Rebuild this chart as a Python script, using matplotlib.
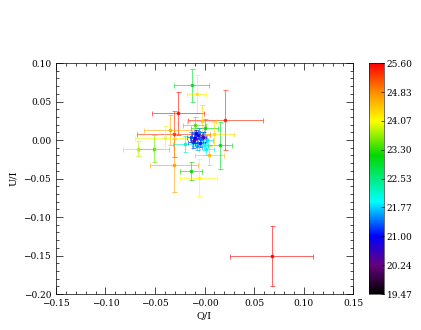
import numpy as np
import matplotlib
matplotlib.use('Agg')
import matplotlib.pyplot as plt
from matplotlib.colors import LinearSegmentedColormap, Normalize
from matplotlib.ticker import MultipleLocator

plt.rcParams['font.family'] = 'DejaVu Serif'

# Q/I, U/I, errors, magnitude (colour)
q = [-0.013, -0.008, -0.027, 0.021, -0.031, -0.035, -0.067, -0.051, -0.031, -0.014,
     -0.006, 0.005, 0.016, 0.000, -0.010, 0.002, -0.020, -0.040, 0.010, -0.003,
     -0.010, -0.007, -0.012, -0.005, -0.009, -0.004, -0.014, -0.008, -0.002, -0.011,
     -0.006, 0.003, -0.001, 0.068]
u = [0.071, 0.060, 0.035, 0.026, 0.008, 0.013, -0.011, -0.011, -0.033, -0.040,
     -0.049, -0.020, -0.007, 0.015, 0.020, -0.011, -0.005, 0.003, 0.008, 0.025,
     0.002, 0.006, -0.003, -0.004, 0.009, 0.001, 0.004, -0.008, 0.004, 0.000,
     0.011, 0.000, -0.007, -0.151]
qerr = [0.018, 0.010, 0.026, 0.038, 0.037, 0.026, 0.015, 0.015, 0.024, 0.011,
        0.019, 0.015, 0.012, 0.014, 0.012, 0.008, 0.012, 0.030, 0.020, 0.015,
        0.005, 0.004, 0.005, 0.005, 0.004, 0.006, 0.004, 0.005, 0.004, 0.003,
        0.005, 0.006, 0.005, 0.042]
uerr = [0.021, 0.025, 0.028, 0.039, 0.030, 0.020, 0.010, 0.018, 0.034, 0.012,
        0.024, 0.012, 0.031, 0.012, 0.010, 0.008, 0.010, 0.015, 0.015, 0.020,
        0.006, 0.005, 0.007, 0.005, 0.004, 0.005, 0.006, 0.005, 0.006, 0.004,
        0.004, 0.007, 0.006, 0.039]
mag = [22.9, 24.2, 25.5, 25.4, 25.3, 24.6, 23.8, 23.5, 24.7, 23.2,
       24.1, 24.5, 23.0, 23.1, 23.4, 21.9, 22.2, 24.0, 24.3, 24.4,
       21.0, 20.8, 21.2, 21.1, 20.9, 21.4, 21.3, 21.6, 20.6, 20.4,
       21.5, 21.8, 22.0, 25.6]

cb_ticks = [19.47, 20.24, 21.00, 21.77, 22.53, 23.30, 24.07, 24.83, 25.60]

cmap = LinearSegmentedColormap.from_list('idl_rainbow', [
    (0.0, (0, 0, 0)),
    (0.125, (0.40, 0.0, 0.50)),
    (0.25, (0.0, 0.0, 1.0)),
    (0.40, (0.0, 1.0, 1.0)),
    (0.60, (0.0, 0.85, 0.0)),
    (0.75, (1.0, 1.0, 0.0)),
    (0.875, (1.0, 0.55, 0.0)),
    (1.0, (1.0, 0.0, 0.0))])
norm = Normalize(vmin=19.47, vmax=25.60)


def fmt_x(v, p):
    s = '%.2f' % v
    if abs(v) < 1e-9:
        s = '-0.00'
    return s.replace('-', '\u2212')


def fmt_y(v, p):
    s = '%.2f' % (0.0 if abs(v) < 1e-9 else v)
    return s.replace('-', '\u2212')


fig = plt.figure(figsize=(4.21, 3.30), dpi=100)
ax = fig.add_axes([0.133, 0.109, 0.7055, 0.700])

for i in range(len(q)):
    c = cmap(norm(mag[i]))
    ax.errorbar(q[i], u[i], xerr=qerr[i], yerr=uerr[i], fmt='s', color=c,
                ms=1.8, elinewidth=0.5, capsize=1.8, capthick=0.5, alpha=0.85)

ax.set_xlim(-0.15, 0.15)
ax.set_ylim(-0.20, 0.10)
ax.xaxis.set_major_locator(MultipleLocator(0.05))
ax.yaxis.set_major_locator(MultipleLocator(0.05))
ax.xaxis.set_minor_locator(MultipleLocator(0.01))
ax.yaxis.set_minor_locator(MultipleLocator(0.01))
ax.tick_params(which='both', direction='in', top=True, right=True, labelsize=6.5, width=0.5)
ax.tick_params(which='major', length=5)
ax.tick_params(which='minor', length=2.5)
ax.xaxis.set_major_formatter(plt.FuncFormatter(fmt_x))
ax.yaxis.set_major_formatter(plt.FuncFormatter(fmt_y))
for s in ax.spines.values():
    s.set_linewidth(0.5)
ax.set_xlabel('Q/I', fontsize=7, labelpad=2)
ax.set_ylabel('U/I', fontsize=7, labelpad=4)

cax = fig.add_axes([0.8765, 0.109, 0.0356, 0.700])
grad = np.linspace(19.47, 25.60, 256).reshape(-1, 1)
cax.imshow(grad, aspect='auto', cmap=cmap, norm=norm, origin='lower',
           extent=[0, 1, 19.47, 25.60])
cax.set_xticks([])
cax.yaxis.tick_right()
cax.set_yticks(cb_ticks)
cax.set_yticklabels(['%.2f' % t for t in cb_ticks])
cax.tick_params(axis='y', direction='in', length=2, labelsize=6.5, pad=2, width=0.5)
for s in cax.spines.values():
    s.set_linewidth(0.4)

fig.savefig('out.png', dpi=100)
